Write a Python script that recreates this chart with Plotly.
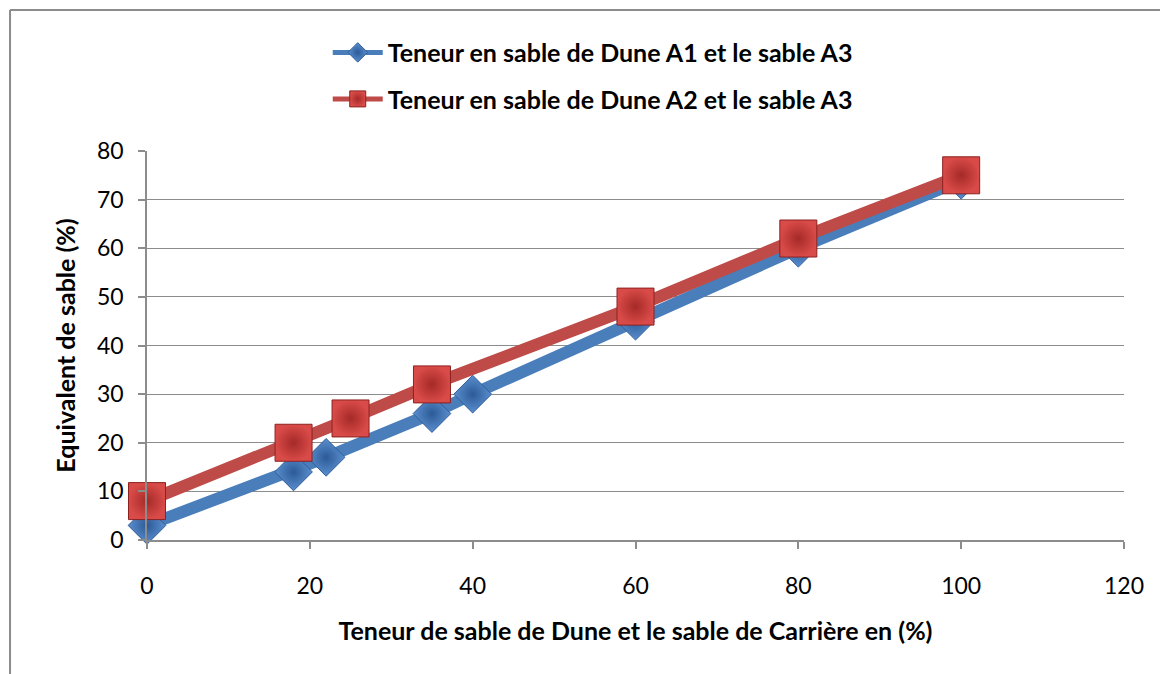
import plotly.graph_objects as go

# Sand content (%) for each mix and measured sand equivalent (%)
x_a1 = [0, 18, 22, 35, 40, 60, 80, 100]
y_a1 = [3, 14, 17, 26, 30, 45, 60, 74]

x_a2 = [0, 18, 25, 35, 60, 80, 100]
y_a2 = [8, 20, 25, 32, 48, 62, 75]

name_a1 = "Teneur en sable de Dune A1 et le sable A3"
name_a2 = "Teneur en sable de Dune A2 et le sable A3"

x_ticks = [0, 20, 40, 60, 80, 100, 120]
y_ticks = [0, 10, 20, 30, 40, 50, 60, 70, 80]

BLUE = "#4a7ebb"
RED = "#be4b48"
GRID = "#8c8c8c"
FONT = "Lato"

blue_marker = dict(color="#5b8fd0", gradient=dict(type="radial", color="#2c5a96"),
                   line=dict(color="#2f5d99", width=1))
red_marker = dict(color="#d94b48", gradient=dict(type="radial", color="#a52a28"),
                  line=dict(color="#8c2220", width=1))

fig = go.Figure()

# data series
fig.add_trace(go.Scatter(
    x=x_a1, y=y_a1, name=name_a1, mode="lines+markers",
    line=dict(color=BLUE, width=12),
    marker=dict(symbol="diamond", size=29, **blue_marker),
    cliponaxis=False, showlegend=False,
))
fig.add_trace(go.Scatter(
    x=x_a2, y=y_a2, name=name_a2, mode="lines+markers",
    line=dict(color=RED, width=12),
    marker=dict(symbol="square", size=37, **red_marker),
    cliponaxis=False, showlegend=False,
))

# legend entries with a thinner key line
fig.add_trace(go.Scatter(
    x=[None], y=[None], name=name_a1, mode="lines+markers",
    line=dict(color=BLUE, width=5),
    marker=dict(symbol="diamond", size=15, **blue_marker),
    legendgroup="a1",
))
fig.add_trace(go.Scatter(
    x=[None], y=[None], name=name_a2, mode="lines+markers",
    line=dict(color=RED, width=5),
    marker=dict(symbol="square", size=16, **red_marker),
    legendgroup="a2",
))

fig.update_layout(
    width=1160, height=674,
    margin=dict(l=147, r=36, t=151, b=134),
    paper_bgcolor="white", plot_bgcolor="white",
    font=dict(family=FONT, size=23, color="black"),
    legend=dict(
        x=0.185, y=1.312, xanchor="left", yanchor="top",
        orientation="v", tracegroupgap=11,
        itemwidth=50, traceorder="grouped",
        font=dict(family=FONT, size=25, color="black", weight="bold"),
        bgcolor="rgba(0,0,0,0)",
    ),
    xaxis=dict(
        range=[0, 120], tickvals=x_ticks, ticktext=[str(v) for v in x_ticks],
        showgrid=False, zeroline=False,
        showline=True, linecolor=GRID, linewidth=1.5,
        ticks="outside", ticklen=7, tickcolor=GRID, tickwidth=1.5,
        ticklabelstandoff=18,
        tickfont=dict(family=FONT, size=23),
        title=dict(text="Teneur de sable de Dune et le sable de Carrière en (%)",
                   font=dict(family=FONT, size=25, weight="bold"), standoff=24),
    ),
    yaxis=dict(
        range=[0, 80], tickvals=y_ticks, ticktext=[str(v) for v in y_ticks],
        showgrid=True, gridcolor=GRID, gridwidth=1.2, zeroline=False,
        showline=True, linecolor=GRID, linewidth=1.5,
        ticks="outside", ticklen=7, tickcolor=GRID, tickwidth=1.5,
        ticklabelstandoff=10,
        tickfont=dict(family=FONT, size=23),
        title=dict(text="Equivalent de sable (%)",
                   font=dict(family=FONT, size=25, weight="bold"), standoff=14),
    ),
    shapes=[
        # outer chart frame
        dict(type="line", xref="paper", yref="paper",
             x0=-0.1402, x1=-0.1402, y0=1.3625, y1=-0.4,
             line=dict(color=GRID, width=2)),
        dict(type="line", xref="paper", yref="paper",
             x0=-0.1402, x1=1.1, y0=1.3625, y1=1.3625,
             line=dict(color=GRID, width=2)),
    ],
)

fig.write_html("out.html")
